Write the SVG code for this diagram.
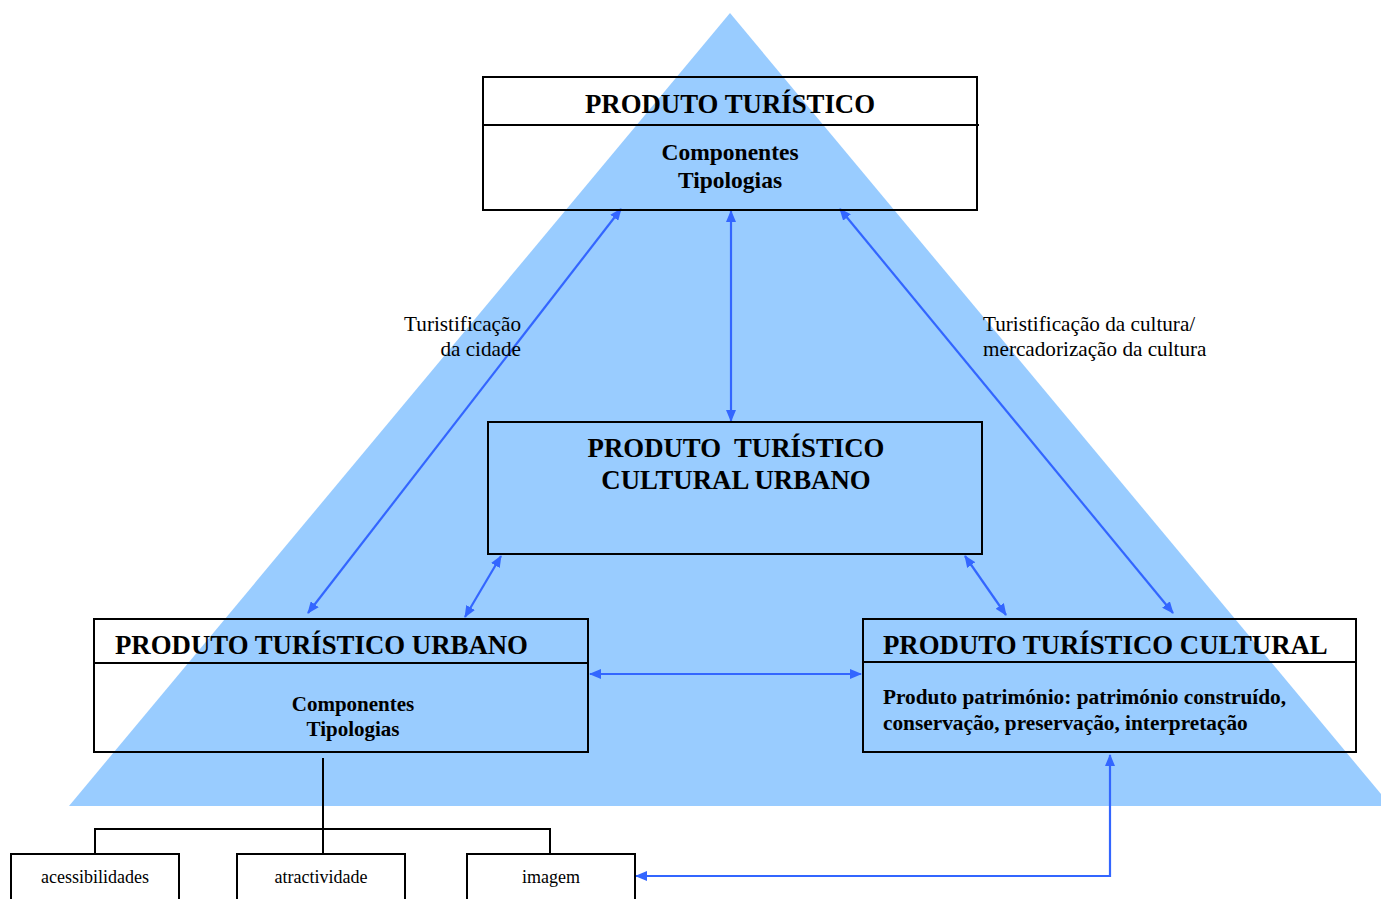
<svg xmlns="http://www.w3.org/2000/svg" width="1381" height="899" viewBox="0 0 1381 899">
<style>
.box{fill:none;stroke:#000;stroke-width:2}
.ln{fill:none;stroke:#000;stroke-width:2}
.ar{fill:none;stroke:#3366ff;stroke-width:2.2;marker-start:url(#ah);marker-end:url(#ah)}
text{font-family:"Liberation Serif","Times New Roman",serif;fill:#000}
.t{font-size:26.8px;font-weight:bold}
.c{font-size:23.5px;font-weight:bold}
.c2{font-size:21px;font-weight:bold}
.p{font-size:21.3px;font-weight:bold}
.lb{font-size:21.2px}
.s{font-size:18px}
</style>
<defs>
<marker id="ah" markerUnits="userSpaceOnUse" markerWidth="12" markerHeight="10" refX="11" refY="5" orient="auto-start-reverse">
<path d="M0,0 L12,5 L0,10 Z" fill="#3366ff"/>
</marker>
</defs>
<rect width="1381" height="899" fill="#fff"/>
<polygon id="triangle" points="730,13 1391,806 69,806" fill="#99ccff"/>
<g id="connectors">
<line class="ar" x1="621" y1="209" x2="308" y2="613"/>
<line class="ar" x1="731" y1="211" x2="731" y2="421"/>
<line class="ar" x1="840" y1="209" x2="1173" y2="613"/>
<line class="ar" x1="501" y1="556" x2="465" y2="617"/>
<line class="ar" x1="965" y1="556" x2="1006" y2="615"/>
<line class="ar" x1="590" y1="674" x2="861" y2="674"/>
<path class="ar" d="M1110,755 L1110,876 L636,876"/>
<path class="ln" d="M323,758 L323,854 M95,854 L95,829 L550,829 L550,854"/>
</g>
<g id="produto-turistico">
<rect class="box" x="483" y="77" width="494" height="133"/>
<line class="ln" x1="483" y1="125" x2="979" y2="125"/>
<text class="t" x="730" y="113" text-anchor="middle">PRODUTO TURÍSTICO</text>
<text class="c" x="730" y="160" text-anchor="middle">Componentes</text>
<text class="c" x="730" y="188" text-anchor="middle">Tipologias</text>
</g>
<g id="produto-cultural-urbano">
<rect class="box" x="488" y="422" width="494" height="132"/>
<text class="t" x="736" y="457" text-anchor="middle" xml:space="preserve">PRODUTO  TURÍSTICO</text>
<text class="t" x="736" y="489" text-anchor="middle">CULTURAL URBANO</text>
</g>
<g id="produto-urbano">
<rect class="box" x="94" y="619" width="494" height="133"/>
<line class="ln" x1="94" y1="663" x2="588" y2="663"/>
<text class="t" x="115" y="654">PRODUTO TURÍSTICO URBANO</text>
<text class="c2" x="353" y="711" text-anchor="middle">Componentes</text>
<text class="c2" x="353" y="736" text-anchor="middle">Tipologias</text>
</g>
<g id="produto-cultural">
<rect class="box" x="863" y="619" width="493" height="133"/>
<line class="ln" x1="863" y1="662" x2="1356" y2="662"/>
<text class="t" x="883" y="654">PRODUTO TURÍSTICO CULTURAL</text>
<text class="p" x="883" y="704">Produto património: património construído,</text>
<text class="p" x="883" y="730">conservação, preservação, interpretação</text>
</g>
<g id="label-cidade">
<text class="lb" x="521" y="331" text-anchor="end">Turistificação</text>
<text class="lb" x="521" y="356" text-anchor="end">da cidade</text>
</g>
<g id="label-cultura">
<text class="lb" x="983" y="331">Turistificação da cultura/</text>
<text class="lb" x="983" y="356">mercadorização da cultura</text>
</g>
<g id="acessibilidades">
<rect class="box" x="11" y="854" width="168" height="60"/>
<text class="s" x="95" y="883" text-anchor="middle">acessibilidades</text>
</g>
<g id="atractividade">
<rect class="box" x="237" y="854" width="168" height="60"/>
<text class="s" x="321" y="883" text-anchor="middle">atractividade</text>
</g>
<g id="imagem">
<rect class="box" x="467" y="854" width="168" height="60"/>
<text class="s" x="551" y="883" text-anchor="middle">imagem</text>
</g>
</svg>
